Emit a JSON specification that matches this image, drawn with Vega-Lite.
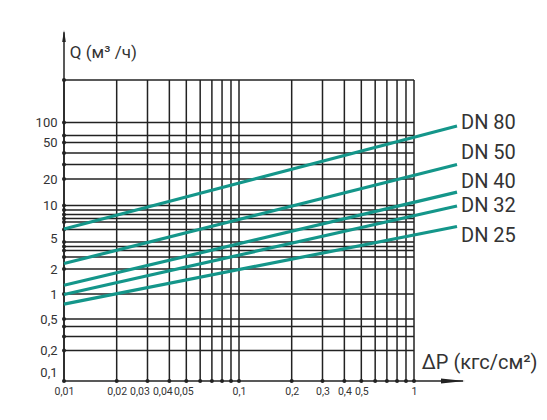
{
  "$schema": "https://vega.github.io/schema/vega-lite/v6.json",
  "width": 350,
  "height": 301,
  "autosize": "none",
  "padding": {"left": 64, "top": 80, "right": 133, "bottom": 39},
  "background": "#ffffff",
  "config": {
    "view": {"stroke": null},
    "font": "Roboto"
  },
  "datasets": {
    "xgrid": [
      {"dp": 0.01}, {"dp": 0.02}, {"dp": 0.03}, {"dp": 0.04}, {"dp": 0.05}, {"dp": 0.06}, {"dp": 0.07}, {"dp": 0.08}, {"dp": 0.09},
      {"dp": 0.1}, {"dp": 0.2}, {"dp": 0.3}, {"dp": 0.4}, {"dp": 0.5}, {"dp": 0.6}, {"dp": 0.7}, {"dp": 0.8}, {"dp": 0.9}, {"dp": 1}
    ],
    "ygrid": [
      {"q": 400}, {"q": 100}, {"q": 63.7}, {"q": 50}, {"q": 38.4}, {"q": 28.8}, {"q": 20}, {"q": 10}, {"q": 9.08}, {"q": 8.25},
      {"q": 7.58}, {"q": 7.03}, {"q": 5.99}, {"q": 4.44}, {"q": 3.89}, {"q": 3.46}, {"q": 2.85}, {"q": 2}, {"q": 1},
      {"q": 0.5}, {"q": 0.402}, {"q": 0.3}, {"q": 0.2}
    ],
    "curves": [
      {"dn": "DN 80", "dp": 0.01, "q": 6.06}, {"dn": "DN 80", "dp": 1.761, "q": 88.6},
      {"dn": "DN 50", "dp": 0.01, "q": 2.35}, {"dn": "DN 50", "dp": 1.761, "q": 28.8},
      {"dn": "DN 40", "dp": 0.01, "q": 1.276}, {"dn": "DN 40", "dp": 1.761, "q": 14.2},
      {"dn": "DN 32", "dp": 0.01, "q": 0.986}, {"dn": "DN 32", "dp": 1.761, "q": 9.89},
      {"dn": "DN 25", "dp": 0.01, "q": 0.754}, {"dn": "DN 25", "dp": 1.761, "q": 6.39}
    ],
    "labels": [
      {"text": "DN 80", "dp": 1.856, "q": 96.6},
      {"text": "DN 50", "dp": 1.856, "q": 38.4},
      {"text": "DN 40", "dp": 1.856, "q": 18.5},
      {"text": "DN 32", "dp": 1.856, "q": 9.79},
      {"text": "DN 25", "dp": 1.856, "q": 5.22}
    ],
    "titles": [
      {"text": "Q (м³ /ч)", "dp": 0.0108, "q": 950, "kind": "y"},
      {"text": "ΔP (кгс/см²)", "dp": 1.107, "q": 0.1336, "kind": "x"}
    ]
  },
  "layer": [
    {
      "data": {"name": "xgrid"},
      "mark": {"type": "rule", "color": "#222222", "strokeWidth": 1.5},
      "encoding": {
        "x": {
          "field": "dp", "type": "quantitative",
          "scale": {"type": "log", "domain": [0.01, 1], "nice": false},
          "axis": {
            "values": [0.01, 0.02, 0.03, 0.04, 0.05, 0.1, 0.2, 0.3, 0.4, 0.5, 1],
            "labelExpr": "replace(toString(datum.value), '.', ',')",
            "domain": false, "ticks": false, "grid": false, "title": null,
            "labelFontSize": 10.5, "labelColor": "#333333", "labelPadding": 5,
            "labelOffset": {
              "condition": [
                {"test": "datum.value > 0.025 && datum.value < 0.035", "value": -8},
                {"test": "datum.value > 0.035 && datum.value < 0.045", "value": -7},
                {"test": "datum.value > 0.045 && datum.value < 0.055", "value": -3}
              ],
              "value": 0
            },
            "labelOverlap": false, "labelFlush": false, "labelBound": false
          }
        },
        "y": {
          "datum": 0.075, "type": "quantitative",
          "scale": {
            "type": "log", "nice": false,
            "domain": [0.075, 0.1, 0.2, 0.5, 1, 2, 5, 10, 20, 50, 100, 400],
            "range": [301, 292, 270.5, 239, 214, 189, 158, 125.5, 99, 62.5, 42.5, 0]
          },
          "axis": {
            "values": [0.1, 0.2, 0.5, 1, 2, 5, 10, 20, 50, 100],
            "labelExpr": "replace(toString(datum.value), '.', ',')",
            "domain": false, "ticks": false, "grid": false, "title": null,
            "labelFontSize": 13, "labelColor": "#333333", "labelPadding": 7,
            "labelOverlap": false, "labelFlush": false, "labelBound": false
          }
        },
        "y2": {"datum": 400}
      }
    },
    {
      "data": {"name": "ygrid"},
      "mark": {"type": "rule", "color": "#222222", "strokeWidth": 1.5},
      "encoding": {
        "y": {"field": "q", "type": "quantitative"},
        "x": {"datum": 0.01, "type": "quantitative"},
        "x2": {"datum": 1}
      }
    },
    {
      "data": {"values": [{}]},
      "mark": {"type": "rule", "color": "#222222", "strokeWidth": 1.5},
      "encoding": {
        "x": {"datum": 0.01, "type": "quantitative"},
        "x2": {"datum": 1.905},
        "y": {"datum": 0.075, "type": "quantitative"}
      }
    },
    {
      "data": {"values": [{}]},
      "mark": {"type": "rule", "color": "#222222", "strokeWidth": 1.5},
      "encoding": {
        "x": {"datum": 0.01, "type": "quantitative"},
        "y": {"datum": 0.075, "type": "quantitative"},
        "y2": {"datum": 1900}
      }
    },
    {
      "data": {"values": [{}]},
      "mark": {"type": "point", "filled": true, "color": "#222222", "opacity": 1, "size": 576, "shape": "M-1,-0.2L1,0L-1,0.2Z"},
      "encoding": {
        "x": {"datum": 1.671, "type": "quantitative"},
        "y": {"datum": 0.075, "type": "quantitative"}
      }
    },
    {
      "data": {"values": [{}]},
      "mark": {"type": "point", "filled": true, "color": "#222222", "opacity": 1, "size": 144, "shape": "M-0.3,1L0,-1L0.3,1Z"},
      "encoding": {
        "x": {"datum": 0.01, "type": "quantitative"},
        "y": {"datum": 1680, "type": "quantitative"}
      }
    },
    {
      "data": {"name": "xgrid"},
      "mark": {"type": "point", "filled": true, "color": "#222222", "opacity": 1, "size": 16},
      "encoding": {
        "x": {"field": "dp", "type": "quantitative"},
        "y": {"datum": 0.075, "type": "quantitative"}
      }
    },
    {
      "data": {"name": "ygrid"},
      "mark": {"type": "point", "filled": true, "color": "#222222", "opacity": 1, "size": 16},
      "encoding": {
        "y": {"field": "q", "type": "quantitative"},
        "x": {"datum": 0.01, "type": "quantitative"}
      }
    },
    {
      "data": {"name": "curves"},
      "mark": {"type": "line", "color": "#14968a", "strokeWidth": 3.2},
      "encoding": {
        "x": {"field": "dp", "type": "quantitative"},
        "y": {"field": "q", "type": "quantitative"},
        "detail": {"field": "dn"}
      }
    },
    {
      "data": {"name": "labels"},
      "mark": {"type": "text", "align": "left", "baseline": "middle", "fontSize": 20, "color": "#333333"},
      "encoding": {
        "x": {"field": "dp", "type": "quantitative"},
        "y": {"field": "q", "type": "quantitative"},
        "text": {"field": "text"}
      }
    },
    {
      "data": {"name": "titles"},
      "transform": [{"filter": "datum.kind == 'y'"}],
      "mark": {"type": "text", "align": "left", "baseline": "middle", "fontSize": 17, "color": "#333333"},
      "encoding": {
        "x": {"field": "dp", "type": "quantitative"},
        "y": {"field": "q", "type": "quantitative"},
        "text": {"field": "text"}
      }
    },
    {
      "data": {"name": "titles"},
      "transform": [{"filter": "datum.kind == 'x'"}],
      "mark": {"type": "text", "align": "left", "baseline": "middle", "fontSize": 20, "color": "#333333"},
      "encoding": {
        "x": {"field": "dp", "type": "quantitative"},
        "y": {"field": "q", "type": "quantitative"},
        "text": {"field": "text"}
      }
    }
  ]
}
